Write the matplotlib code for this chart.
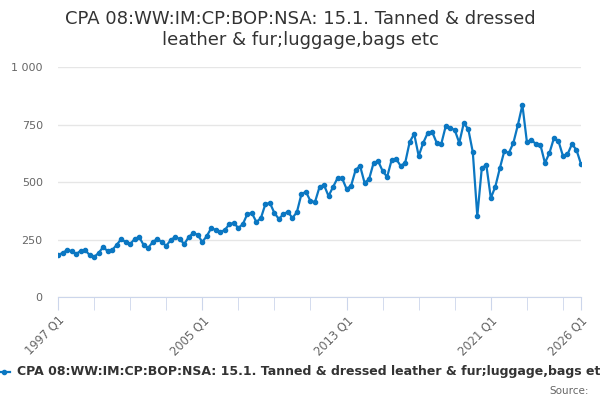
import matplotlib
matplotlib.use("Agg")
import matplotlib.pyplot as plt
from matplotlib.ticker import FuncFormatter, MultipleLocator
import numpy as np

title = "CPA 08:WW:IM:CP:BOP:NSA: 15.1. Tanned & dressed\nleather & fur;luggage,bags etc"
series_name = "CPA 08:WW:IM:CP:BOP:NSA: 15.1. Tanned & dressed leather & fur;luggage,bags etc"

# quarterly values, 1997 Q1 .. 2026 Q1
values = [
    183, 191, 204, 200,  187, 200, 204, 183,  174, 191, 217, 200,
    204, 226, 252, 239,  230, 252, 261, 226,  213, 239, 252, 240,
    222, 248, 261, 252,  230, 261, 278, 270,  239, 265, 300, 291,
    283, 291, 317, 322,  300, 317, 361, 365,  326, 343, 404, 409,
    365, 339, 361, 370,  343, 370, 448, 457,  417, 413, 478, 487,
    439, 478, 517, 517,  470, 483, 552, 570,  496, 513, 583, 591,
    548, 522, 596, 600,  570, 583, 674, 709,  613, 670, 713, 717,
    670, 665, 743, 735,  726, 670, 756, 730,  630, 352, 561, 574,
    430, 480, 560, 635,  626, 670, 748, 835,  674, 683, 665, 661,
    583, 626, 691, 678,  613, 620, 665, 639,  578,
]
start_year = 1997
tick_labels = ["1997 Q1", "2005 Q1", "2013 Q1", "2021 Q1", "2026 Q1"]

x = np.arange(len(values))
tick_pos = [(int(t[:4]) - start_year) * 4 for t in tick_labels]
minor_pos = np.arange(0, len(values), 8)

fig = plt.figure(figsize=(6, 4), dpi=100)
ax = fig.add_axes([58 / 600, 1 - 297 / 400, (581 - 58) / 600, (297 - 67) / 400])

blue = "#0b77c2"
ax.plot(x, values, color=blue, lw=1.6, marker="o", ms=3, zorder=3)

ax.set_xlim(0, len(values) - 1)
ax.set_ylim(0, 1000)
ax.yaxis.set_major_locator(MultipleLocator(250))
ax.yaxis.set_major_formatter(FuncFormatter(lambda v, p: f"{int(v):,}".replace(",", " ")))
ax.grid(axis="y", color="#e6e6e6", lw=1)
ax.set_axisbelow(True)

for s in ["top", "right", "left"]:
    ax.spines[s].set_visible(False)
ax.spines["bottom"].set_color("#ccd6eb")

ax.set_xticks(minor_pos, minor=True)
ax.set_xticks(tick_pos)
ax.set_xticklabels(tick_labels, rotation=45, ha="right", rotation_mode="anchor")
ax.tick_params(axis="x", which="both", length=9, color="#ccd6eb", labelsize=8.3, labelcolor="#666666", pad=3)
ax.tick_params(axis="y", length=0, labelsize=8, labelcolor="#666666", pad=11)

fig.text(0.5, 0.975, title, ha="center", va="top", fontsize=13, color="#333333", linespacing=1.2)

# legend drawn by hand so it runs off the right edge like the original
ly = 1 - 372 / 400
fig.add_artist(plt.Line2D([0.0, 0.016], [ly, ly], color=blue, lw=1.6, transform=fig.transFigure))
fig.add_artist(plt.Line2D([0.007], [ly], color=blue, marker="o", ms=3, transform=fig.transFigure))
fig.text(0.028, ly, series_name, ha="left", va="center", fontsize=9,
         fontweight="bold", color="#333333")
fig.text(0.982, 1 - 391 / 400, "Source:", ha="right", va="center", fontsize=7.5, color="#666666")

fig.savefig("out.png", dpi=100)
